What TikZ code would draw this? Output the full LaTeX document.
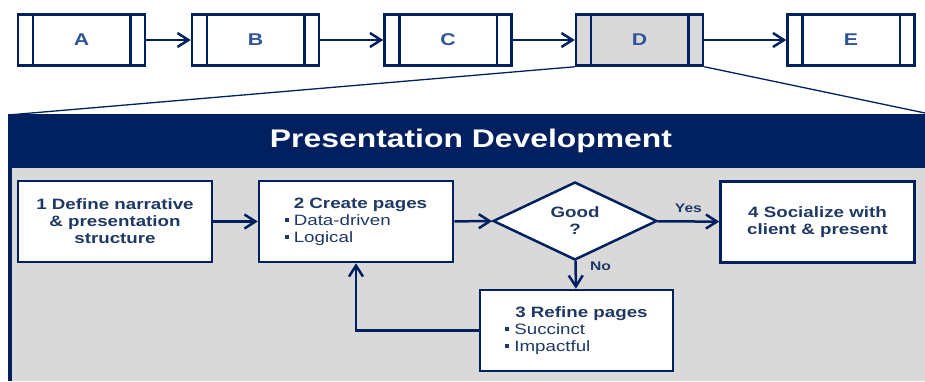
\documentclass[tikz,border=0pt]{standalone}
\usepackage{fontspec}
\setmainfont{Liberation Sans}[FakeStretch=1.25]
\usetikzlibrary{arrows.meta,shapes.geometric}

\definecolor{navy}{RGB}{0,32,96}
\definecolor{inkblue}{RGB}{31,56,100}
\definecolor{letterblue}{RGB}{47,85,151}
\definecolor{panelgray}{RGB}{217,217,217}

% small square bullet for the sub-points
\newcommand{\sqbullet}{\rule[0.2em]{4pt}{4pt}\hspace{5pt}}

\begin{document}
\begin{tikzpicture}[x=1pt,y=-1pt,  % pixel-like units, y grows downwards
    phase/.style={draw=navy, line width=2.5pt, minimum width=127pt, minimum height=51pt,
        inner sep=0pt, text=letterblue, font=\fontsize{17}{17}\selectfont\bfseries},
    stepbox/.style={draw=navy, line width=2.5pt, fill=white, minimum width=194pt,
        minimum height=81pt, inner sep=0pt, align=center, text=inkblue,
        font=\fontsize{15}{17}\selectfont\bfseries},
    decision/.style={diamond, draw=navy, line width=2.5pt, fill=white, minimum width=164pt,
        minimum height=78pt, inner sep=0pt, align=center, text=inkblue,
        font=\fontsize{15}{17}\selectfont\bfseries},
    flow/.style={-{Straight Barb[length=11pt,width=14pt]}, draw=navy, line width=2.5pt},
    answer/.style={text=inkblue, font=\fontsize{12.5}{12.5}\selectfont\bfseries}]

    \useasboundingbox (0,0) rectangle (925,381);

    % Panel: dark header band, grey body, thick left edge
    \fill[navy] (8,114) rectangle (925,168);
    \fill[panelgray] (10,168) rectangle (925,381);
    \draw[navy, line width=4pt] (10,114) -- (10,381);
    \node[text=white, font=\fontsize{25.5}{25.5}\selectfont\bfseries] (title) at (471,141)
        {Presentation Development};

    % Phase chain along the top
    \foreach \n/\x/\f in {A/81.5/white, B/255.5/white, C/448/white, D/639.5/panelgray, E/851/white} {
        \node[phase, fill=\f] (\n) at (\x,40) {\n};
        \draw[navy, line width=2.5pt] ([xshift=16pt]\n.north west) -- ([xshift=16pt]\n.south west);
        \draw[navy, line width=2.5pt] ([xshift=-16pt]\n.north east) -- ([xshift=-16pt]\n.south east);
    }
    \foreach \a/\b in {A/B, B/C, C/D, D/E}
        \draw[flow] (\a) -- (\b);

    % Zoom lines from phase D down to the panel
    \coordinate (zoomleft) at (8,115);
    \coordinate (zoomright) at (925,113);
    \draw[navy, line width=1.3pt] (D.south west) -- (zoomleft);
    \draw[navy, line width=1.3pt] (D.south east) -- (zoomright);

    % Process steps
    \node[stepbox] (define) at (115,221.5) {1 Define narrative\\\& presentation\\structure};
    \node[stepbox, align=left] (create) at (356,221.5)
        {\hspace*{9pt}2 Create pages\\{\mdseries\sqbullet Data-driven}\\{\mdseries\sqbullet Logical}};
    \node[decision] (good) at (575,221) {Good\\?};
    \node[stepbox] (social) at (817.5,222) {4 Socialize with\\client \& present};
    \node[stepbox, minimum width=193pt, align=left] (refine) at (576.5,330.5)
        {\hspace*{10pt}3 Refine pages\\{\mdseries\sqbullet Succinct}\\{\mdseries\sqbullet Impactful}};

    % Connectors
    \draw[flow] (define) -- (create);
    \draw[flow] (create) -- (good);
    \draw[flow] (good) -- node[answer, above=4pt] (yes) {Yes} (social);
    \draw[flow] (good) -- node[answer, pos=0.2, anchor=west, xshift=10pt] (no) {No} (refine);
    \draw[flow] (refine.west) -| (create.south);
\end{tikzpicture}
\end{document}
